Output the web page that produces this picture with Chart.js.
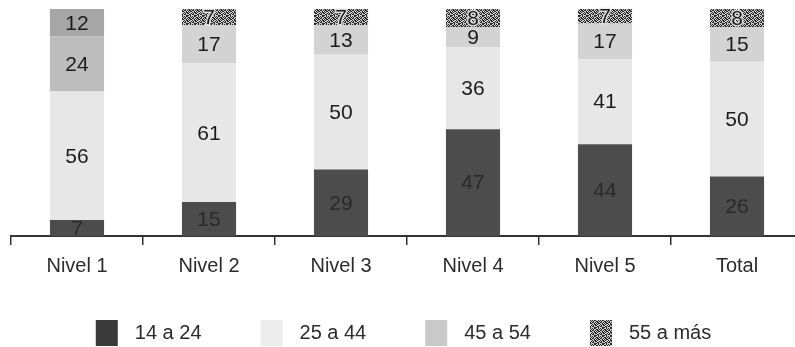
<!DOCTYPE html>
<html>
<head>
<meta charset="utf-8">
<script src="https://cdn.jsdelivr.net/npm/chart.js@4.4.1/dist/chart.umd.min.js"></script>
<style>
    html, body { margin: 0; padding: 0; background: #fff; overflow: hidden; }
    #marco { width: 803px; height: 347px; }
</style>
</head>
<body>
<div id="marco"><canvas id="graficaNiveles"></canvas></div>
<script>
    //-----------datos----------------------//
    const niveles = ['Nivel 1', 'Nivel 2', 'Nivel 3', 'Nivel 4', 'Nivel 5', 'Total'];
    const edades = ['14 a 24', '25 a 44', '45 a 54', '55 a más'];
    const edad14a24 = [7, 15, 29, 47, 44, 26];
    const edad25a44 = [56, 61, 50, 36, 41, 50];
    const edad45a54 = [24, 17, 13, 9, 17, 15];
    const edad55aMas = [12, 7, 7, 8, 7, 8];

    const series = [edad14a24, edad25a44, edad45a54, edad55aMas];
    const fuente = '"Liberation Sans", Arial, sans-serif';

    // trama moteada para "55 a más"
    function trama() {
        const mapa = [
            '10110010',
            '01001101',
            '11010110',
            '00101011',
            '10110100',
            '01011001',
            '11000110',
            '00111010'
        ];
        const c = document.createElement('canvas');
        c.width = 8;
        c.height = 8;
        const g = c.getContext('2d');
        mapa.forEach(function(fila, y) {
            fila.split('').forEach(function(b, x) {
                g.fillStyle = b === '1' ? '#262626' : '#cfcfcf';
                g.fillRect(x, y, 1, 1);
            });
        });
        return g.createPattern(c, 'repeat');
    }
    const moteado = trama();

    const colores = [
        '#4c4c4c',
        '#e7e7e7',
        ['#bdbdbd', '#d3d3d3', '#d3d3d3', '#d3d3d3', '#d3d3d3', '#d3d3d3'],
        ['#a6a6a6', moteado, moteado, moteado, moteado, moteado]
    ];
    const coloresLeyenda = ['#3a3a3a', '#ececec', '#c9c9c9', moteado];

    // cada barra al 100%
    const totales = niveles.map(function(n, j) {
        return series.reduce(function(s, arr) { return s + arr[j]; }, 0);
    });

    const datasets = series.map(function(arr, i) {
        return {
            label: edades[i],
            valores: arr,
            data: arr.map(function(v, j) { return v / totales[j] * 100; }),
            backgroundColor: colores[i],
            borderWidth: 0,
            barPercentage: 0.41,
            categoryPercentage: 1
        };
    });

    const etiquetas = {
        id: 'etiquetas',
        afterDatasetsDraw(chart) {
            const ctx = chart.ctx;
            ctx.save();
            ctx.font = '21px ' + fuente;
            ctx.textAlign = 'center';
            ctx.textBaseline = 'middle';
            chart.data.datasets.forEach(function(ds, i) {
                chart.getDatasetMeta(i).data.forEach(function(bar, j) {
                    const y = (bar.y + bar.base) / 2 + 1;
                    if (i === 3 && j > 0) {
                        ctx.lineWidth = 3;
                        ctx.strokeStyle = 'rgba(235,235,235,0.85)';
                        ctx.strokeText(ds.valores[j], bar.x, y);
                    }
                    ctx.fillStyle = i === 0 ? '#2a2a2a' : '#1c1c1c';
                    ctx.fillText(ds.valores[j], bar.x, y);
                });
            });
            ctx.restore();
        }
    };

    const leyenda = {
        id: 'leyenda',
        afterDraw(chart) {
            const ctx = chart.ctx;
            const caja = 22, alto = 26, sep = 17, hueco = 59;
            const visible = document.documentElement.clientWidth || chart.width;
            ctx.save();
            ctx.font = '20px ' + fuente;
            ctx.textBaseline = 'middle';
            const anchos = edades.map(function(t) { return ctx.measureText(t).width; });
            let total = 0;
            anchos.forEach(function(w, i) { total += caja + sep + w + (i ? hueco : 0); });
            let x = (visible - total) / 2 + 6;
            const yc = chart.height - 14;
            edades.forEach(function(t, i) {
                ctx.fillStyle = coloresLeyenda[i];
                ctx.fillRect(x, yc - alto / 2, caja, alto);
                ctx.fillStyle = '#2b2b2b';
                ctx.fillText(t, x + caja + sep, yc);
                x += caja + sep + anchos[i] + hueco;
            });
            ctx.restore();
        }
    };

    const ctx = document.getElementById('graficaNiveles').getContext('2d');
    const grafica = new Chart(ctx, {
        type: 'bar',
        data: {
            labels: niveles,
            datasets: datasets
        },
        options: {
            responsive: true,
            maintainAspectRatio: false,
            animation: false,
            layout: {
                padding: { top: 9, left: 11, right: 0, bottom: 60 }
            },
            plugins: {
                legend: { display: false },
                tooltip: { enabled: false }
            },
            scales: {
                x: {
                    stacked: true,
                    grid: {
                        drawOnChartArea: false,
                        tickLength: 9,
                        color: '#333',
                        lineWidth: 1.5,
                        offset: true
                    },
                    border: { display: true, color: '#333', width: 2 },
                    ticks: {
                        color: '#2b2b2b',
                        padding: 9,
                        font: { size: 20, family: fuente }
                    }
                },
                y: {
                    stacked: true,
                    min: 0,
                    max: 100,
                    display: false
                }
            }
        },
        plugins: [etiquetas, leyenda]
    });
</script>
</body>
</html>
